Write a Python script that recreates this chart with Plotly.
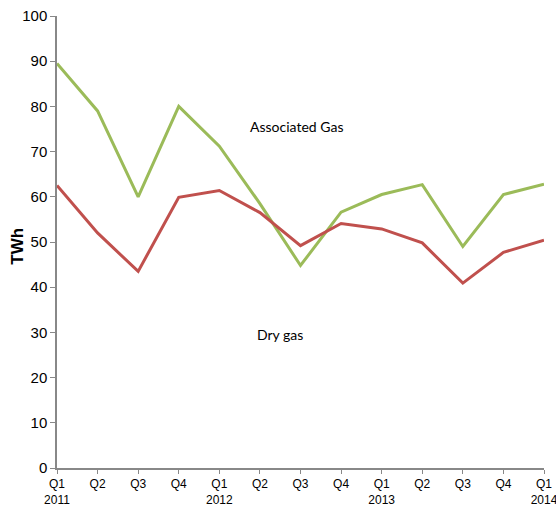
import plotly.graph_objects as go

quarters = ["Q1<br>2011", "Q2", "Q3", "Q4", "Q1<br>2012", "Q2", "Q3", "Q4",
            "Q1<br>2013", "Q2", "Q3", "Q4", "Q1<br>2014"]
associated_gas = [89.5, 79, 60, 80, 71.2, 58.5, 44.8, 56.6, 60.5, 62.7, 49.0, 60.5, 62.8]
dry_gas = [62.5, 52, 43.5, 59.9, 61.4, 56.5, 49.2, 54.1, 52.9, 49.8, 40.9, 47.7, 50.4]
y_ticks = [0, 10, 20, 30, 40, 50, 60, 70, 80, 90, 100]

xs = list(range(len(quarters)))

fig = go.Figure()
fig.add_trace(go.Scatter(x=xs, y=associated_gas, mode="lines",
                         line=dict(color="#9BBB59", width=3), name="Associated Gas"))
fig.add_trace(go.Scatter(x=xs, y=dry_gas, mode="lines",
                         line=dict(color="#C0504D", width=3), name="Dry gas"))

fig.add_annotation(x=5.9, y=75.5, text="Associated Gas", showarrow=False,
                   font=dict(family="Lato, Arial", size=14, color="#000"))
fig.add_annotation(x=5.5, y=29.5, text="Dry gas", showarrow=False,
                   font=dict(family="Lato, Arial", size=14, color="#000"))
fig.add_annotation(xref="paper", yref="paper", x=-0.083, y=0.491, text="<b>TWh</b>",
                   textangle=-90, showarrow=False, xanchor="center", yanchor="middle",
                   font=dict(family="Arial", size=17, color="#000"))

fig.update_layout(
    width=556, height=508,
    margin=dict(l=57, r=12, t=16, b=40),
    paper_bgcolor="white", plot_bgcolor="white",
    showlegend=False,
    font=dict(family="Liberation Sans Narrow, Arial Narrow, Arial", color="#000"),
)
fig.update_xaxes(range=[0, 12], tickvals=xs, ticktext=quarters, showgrid=False,
                 showline=True, linecolor="#888", linewidth=1.5,
                 ticks="outside", ticklen=4, tickcolor="#888",
                 tickfont=dict(size=12), zeroline=False, automargin=False,
                 ticklabeloverflow="allow")
fig.update_yaxes(range=[0, 100], tickvals=y_ticks, showgrid=False,
                 showline=True, linecolor="#888", linewidth=1.5,
                 ticks="outside", ticklen=5, tickcolor="#888",
                 tickfont=dict(size=15), zeroline=False, automargin=False,
                 ticklabeloverflow="allow")

fig.write_html("out.html", config={"displayModeBar": False},
               post_script="document.body.style.margin='0';document.body.style.overflow='hidden';")
